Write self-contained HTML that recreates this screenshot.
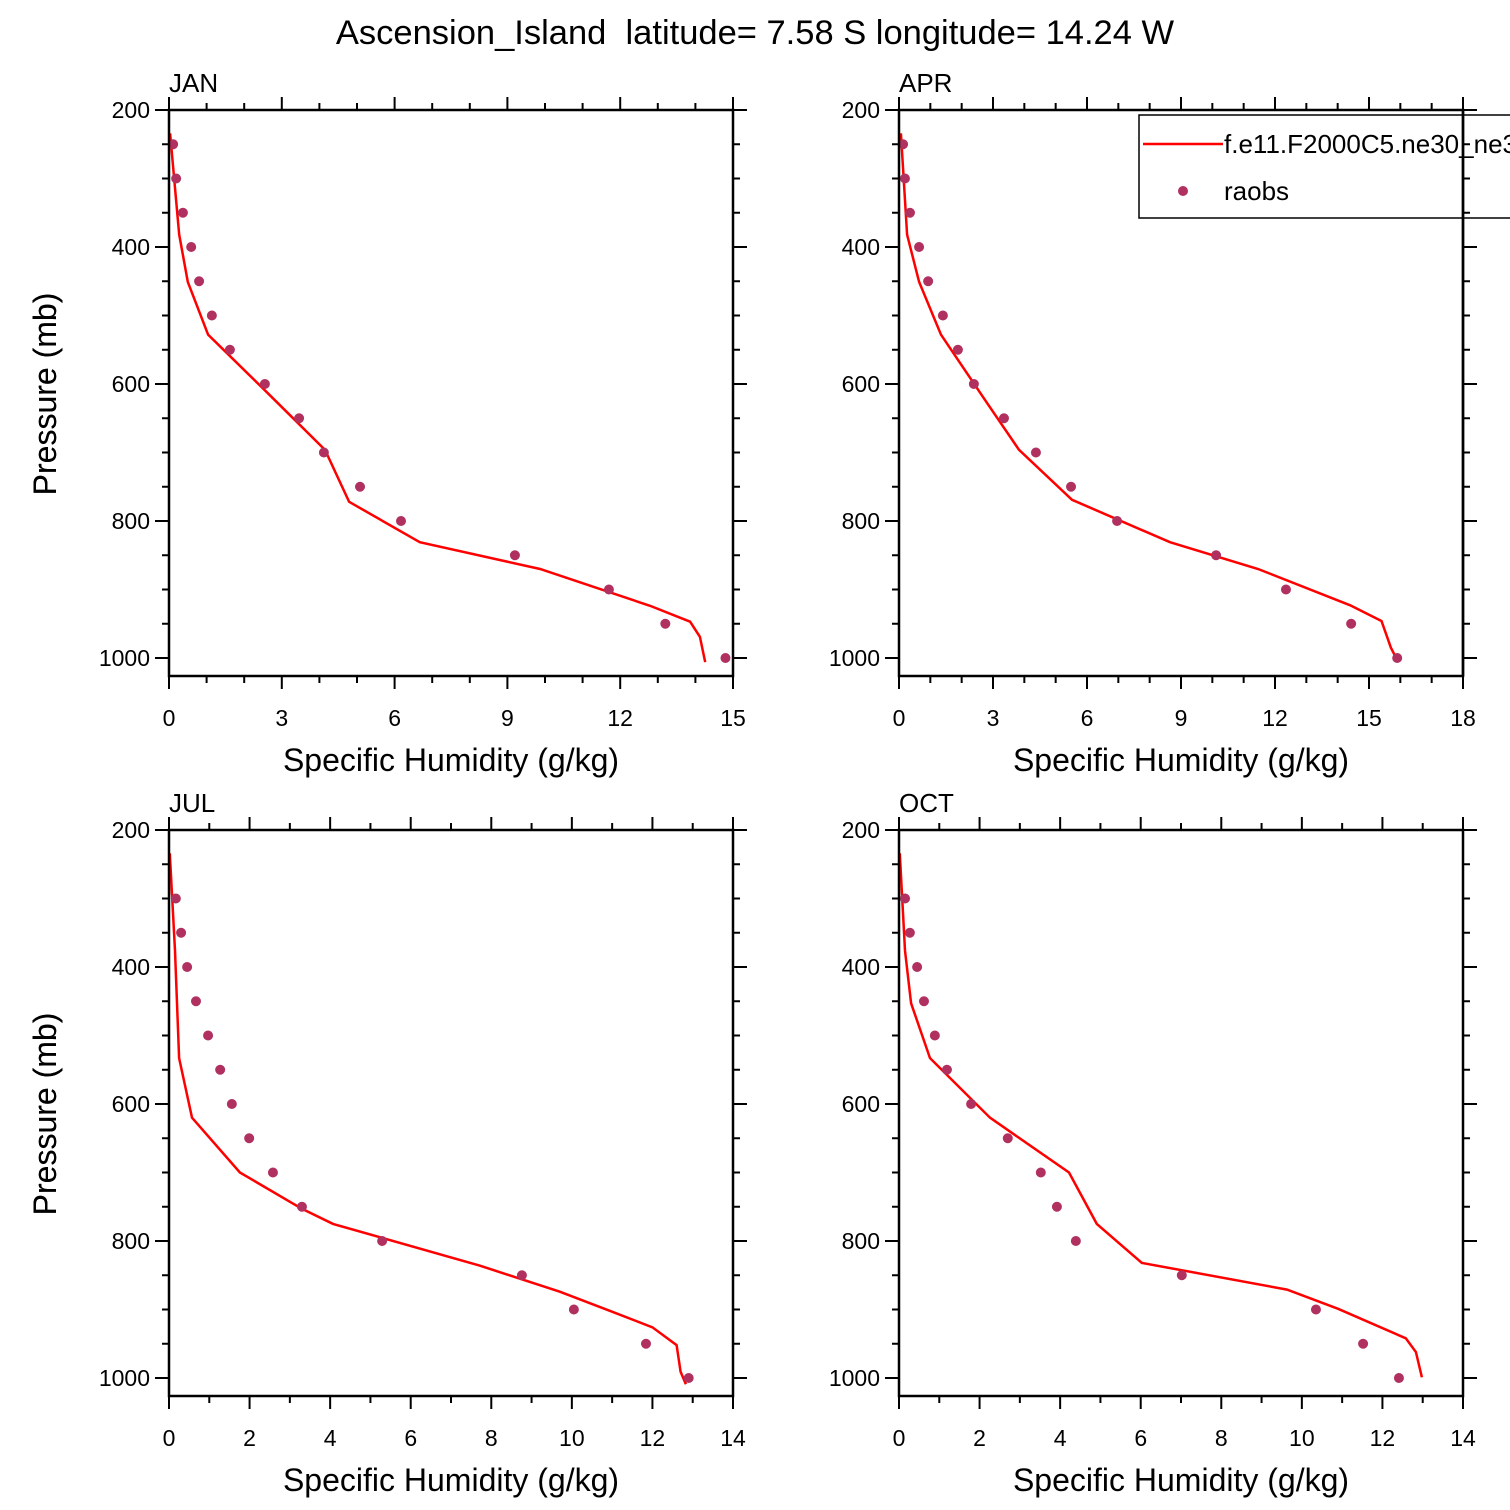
<!DOCTYPE html>
<html><head><meta charset="utf-8"><style>
html,body{margin:0;padding:0;background:#fff}
svg{display:block;font-family:"Liberation Sans",Arial,sans-serif}
</style></head><body>
<svg id="chart" width="1510" height="1510" viewBox="0 0 1510 1510" xmlns="http://www.w3.org/2000/svg">
<text x="755" y="44" font-size="34.5" text-anchor="middle" xml:space="preserve">Ascension_Island  latitude= 7.58 S longitude= 14.24 W</text>
</svg>
<script>
const obsP = [250,300,350,400,450,500,550,600,650,700,750,800,850,900,950,1000];
const obsPJul = [300,350,400,450,500,550,600,650,700,750,800,850,900,950,1000];
const janModelQ = [0.03,0.27,0.5,1.04,2.6,4.15,4.79,6.67,9.87,12.8,13.86,14.12,14.26];
const janModelP = [234,382,451,528,612,696,772,831,870,924,947,969,1006];
const janObsQ = [0.11,0.19,0.37,0.59,0.8,1.14,1.62,2.55,3.46,4.12,5.08,6.17,9.2,11.7,13.2,14.8];
const aprModelQ = [0.06,0.26,0.64,1.34,2.74,3.83,5.52,8.65,11.46,14.4,15.4,15.7,15.9];
const aprModelP = [234,382,451,528,623,696,769,831,870,923,946,985,1003];
const aprObsQ = [0.13,0.19,0.35,0.64,0.93,1.4,1.88,2.39,3.35,4.37,5.49,6.96,10.12,12.35,14.43,15.9];
const julModelQ = [0.02,0.15,0.25,0.57,1.76,3.3,4.07,7.72,9.7,10.95,12.0,12.6,12.7,12.83];
const julModelP = [234,376,533,620,700,753,775,836,874,902,926,952,991,1009];
const julObsQ = [0.17,0.3,0.45,0.67,0.97,1.27,1.56,1.99,2.58,3.3,5.29,8.76,10.05,11.84,12.9];
const octModelQ = [0.02,0.15,0.3,0.77,2.26,4.22,4.91,6.03,9.63,10.9,12.58,12.83,12.98];
const octModelP = [234,376,453,533,620,700,775,832,871,899,942,962,999];
const octObsQ = [0.15,0.27,0.45,0.62,0.89,1.19,1.79,2.7,3.52,3.92,4.39,7.02,10.35,11.52,12.41];
const yTicks = [200,400,600,800,1000];

const NS="http://www.w3.org/2000/svg";
const svg=document.getElementById('chart');
function el(tag,attrs,parent){const e=document.createElementNS(NS,tag);for(const k in attrs)e.setAttribute(k,attrs[k]);(parent||svg).appendChild(e);return e;}

const panels=[
 {name:'jan',label:'JAN',x0:169,y0:110,xmax:15,major:3,minor:1,mq:janModelQ,mp:janModelP,oq:janObsQ,op:obsP},
 {name:'apr',label:'APR',x0:899,y0:110,xmax:18,major:3,minor:1,mq:aprModelQ,mp:aprModelP,oq:aprObsQ,op:obsP},
 {name:'jul',label:'JUL',x0:169,y0:830,xmax:14,major:2,minor:1,mq:julModelQ,mp:julModelP,oq:julObsQ,op:obsPJul},
 {name:'oct',label:'OCT',x0:899,y0:830,xmax:14,major:2,minor:1,mq:octModelQ,mp:octModelP,oq:octObsQ,op:obsPJul}
];
const W=564,H=566;
panels.forEach(pn=>{
 const g=el('g',{});
 
 
 const xs=v=>pn.x0+v/pn.xmax*W;
 const ys=p=>pn.y0+(p-200)/800*548;
 const bottom=pn.y0+H, right=pn.x0+W;
 for(let v=0;v<=pn.xmax+1e-9;v+=pn.minor){
  const isMaj=Math.abs(v/pn.major-Math.round(v/pn.major))<1e-6;
  const L=isMaj?13:7, x=xs(v);
  const t1=el('line',{x1:x,x2:x,y1:pn.y0,y2:pn.y0-L,stroke:'#000','stroke-width':2},g);
  
  
  const t2=el('line',{x1:x,x2:x,y1:bottom,y2:bottom+L,stroke:'#000','stroke-width':2},g);
  
  
  if(isMaj){
   const tl=el('text',{x:x,y:bottom+50,'font-size':23,'text-anchor':'middle'},g);
   tl.textContent=String(Math.round(v));
   
   
  }
 }
 for(let p=200;p<=1000;p+=50){
  const isMaj=p%200===0, L=isMaj?14:7, y=ys(p);
  const a=el('line',{x1:pn.x0,x2:pn.x0-L,y1:y,y2:y,stroke:'#000','stroke-width':2},g);
  
  
  const b=el('line',{x1:right,x2:right+L,y1:y,y2:y,stroke:'#000','stroke-width':2},g);
  
  
 }
 yTicks.forEach(p=>{
  const t=el('text',{x:pn.x0-19,y:ys(p)+8,'font-size':23,'text-anchor':'end'},g);
  t.textContent=String(p);
  
  
 });
 const d=pn.mq.map((q,i)=>(i?'L':'M')+xs(q).toFixed(1)+' '+ys(pn.mp[i]).toFixed(1)).join(' ');
 const ln=el('path',{d:d,fill:'none',stroke:'#ff0000','stroke-width':2.5},g);
 
 
 pn.oq.forEach((q,i)=>{
  const c=el('circle',{cx:xs(q),cy:ys(pn.op[i]),r:5,fill:'#b03060'},g);
  
  
 });
 const fr=el('rect',{x:pn.x0,y:pn.y0,width:W,height:H,fill:'none',stroke:'#000','stroke-width':2.5},g);
 
 
 const lb=el('text',{x:pn.x0,y:pn.y0-18,'font-size':26},g);
 lb.textContent=pn.label;
 
 
 const xt=el('text',{x:pn.x0+W/2,y:bottom+95,'font-size':32,'text-anchor':'middle'},g);
 xt.textContent='Specific Humidity (g/kg)';
 
 
 const cy=pn.y0+284;
 const yt=el('text',{x:56,y:cy,'font-size':32,'text-anchor':'middle',transform:'rotate(-90 56 '+cy+')'},g);
 yt.textContent='Pressure (mb)';
 
 
});
const lg=el('g',{});


const lr=el('rect',{x:1139,y:115,width:400,height:103,fill:'none',stroke:'#000','stroke-width':1.5},lg);


const ll=el('line',{x1:1143,x2:1223,y1:144,y2:144,stroke:'#ff0000','stroke-width':2.5},lg);


const lt=el('text',{x:1224,y:153,'font-size':26},lg);
lt.textContent='f.e11.F2000C5.ne30_ne30';


const ld=el('circle',{cx:1183,cy:191,r:5,fill:'#b03060'},lg);


const lt2=el('text',{x:1224,y:200,'font-size':26},lg);
lt2.textContent='raobs';


const ax=el('line',{x1:1463,x2:1463,y1:110,y2:676,stroke:'#000','stroke-width':2.5});


</script>
</body></html>
